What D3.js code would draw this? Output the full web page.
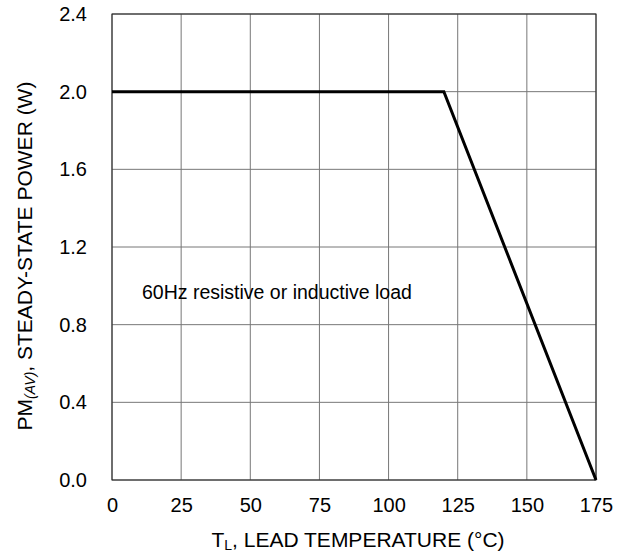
<!DOCTYPE html>
<html>
<head>
<meta charset="utf-8">
<script src="https://cdn.jsdelivr.net/npm/d3@7"></script>
<style>
  body { margin: 0; background: #fff; }
  text { font-family: Arial, "Liberation Sans", sans-serif; fill: #000; }
</style>
</head>
<body>
<svg id="chart"></svg>
<script>
// data
const tempTicks = [0, 25, 50, 75, 100, 125, 150, 175];
const powerTicks = [0.0, 0.4, 0.8, 1.2, 1.6, 2.0, 2.4];
const curveTemp = [0, 120, 175];
const curvePower = [2.0, 2.0, 0.0];

const svgWidth = 627, svgHeight = 557;
const margin = { top: 14, right: 31, bottom: 77, left: 112 };
const width = svgWidth - margin.left - margin.right;
const height = svgHeight - margin.top - margin.bottom;

const svg = d3.select("#chart").attr("width", svgWidth).attr("height", svgHeight);
const g = svg.append("g").attr("transform", "translate(" + margin.left + "," + margin.top + ")");

const x = d3.scaleLinear().domain([0, 175]).range([0, width]);
const y = d3.scaleLinear().domain([0, 2.4]).range([height, 0]);

// grid
g.selectAll(".vgrid").data(tempTicks).enter().append("line")
  .attr("x1", d => x(d)).attr("x2", d => x(d))
  .attr("y1", 0).attr("y2", height)
  .attr("stroke", "#777").attr("stroke-width", 1);
g.selectAll(".hgrid").data(powerTicks).enter().append("line")
  .attr("y1", d => y(d)).attr("y2", d => y(d))
  .attr("x1", 0).attr("x2", width)
  .attr("stroke", "#777").attr("stroke-width", 1);

// frame
g.append("rect").attr("width", width).attr("height", height)
  .attr("fill", "none").attr("stroke", "#222").attr("stroke-width", 1);

// axes
const xAxis = g.append("g").attr("transform", "translate(0," + height + ")")
  .call(d3.axisBottom(x).tickValues(tempTicks).tickSize(0).tickPadding(18));
const yAxis = g.append("g")
  .call(d3.axisLeft(y).tickValues(powerTicks).tickSize(0).tickPadding(25).tickFormat(d3.format(".1f")));
[xAxis, yAxis].forEach(a => {
  a.select(".domain").remove();
  a.selectAll("text").attr("font-size", 20).attr("font-family", "Arial, 'Liberation Sans', sans-serif").attr("fill", "#000");
});

// curve
const line = d3.line().x(d => x(d[0])).y(d => y(d[1]));
g.append("path")
  .datum(curveTemp.map((t, i) => [t, curvePower[i]]))
  .attr("d", line)
  .attr("fill", "none").attr("stroke", "#000").attr("stroke-width", 3);

// annotation
g.append("text").attr("x", x(10.85)).attr("y", y(0.93))
  .attr("font-size", 19.5).text("60Hz resistive or inductive load");

// x title
const xt = svg.append("text").attr("x", 358).attr("y", 547)
  .attr("text-anchor", "middle").attr("font-size", 21);
xt.append("tspan").text("T");
xt.append("tspan").attr("font-size", 14).attr("dy", 3).text("L");
xt.append("tspan").attr("dy", -3).text(", LEAD TEMPERATURE (°C)");

// y title
const yt = svg.append("text")
  .attr("transform", "translate(32,256) rotate(-90)")
  .attr("text-anchor", "middle").attr("font-size", 21);
yt.append("tspan").text("PM");
yt.append("tspan").attr("font-size", 14).attr("dy", 3).attr("font-style", "italic").text("(AV)");
yt.append("tspan").attr("dy", -3).text(", STEADY-STATE POWER (W)");
</script>
</body>
</html>
